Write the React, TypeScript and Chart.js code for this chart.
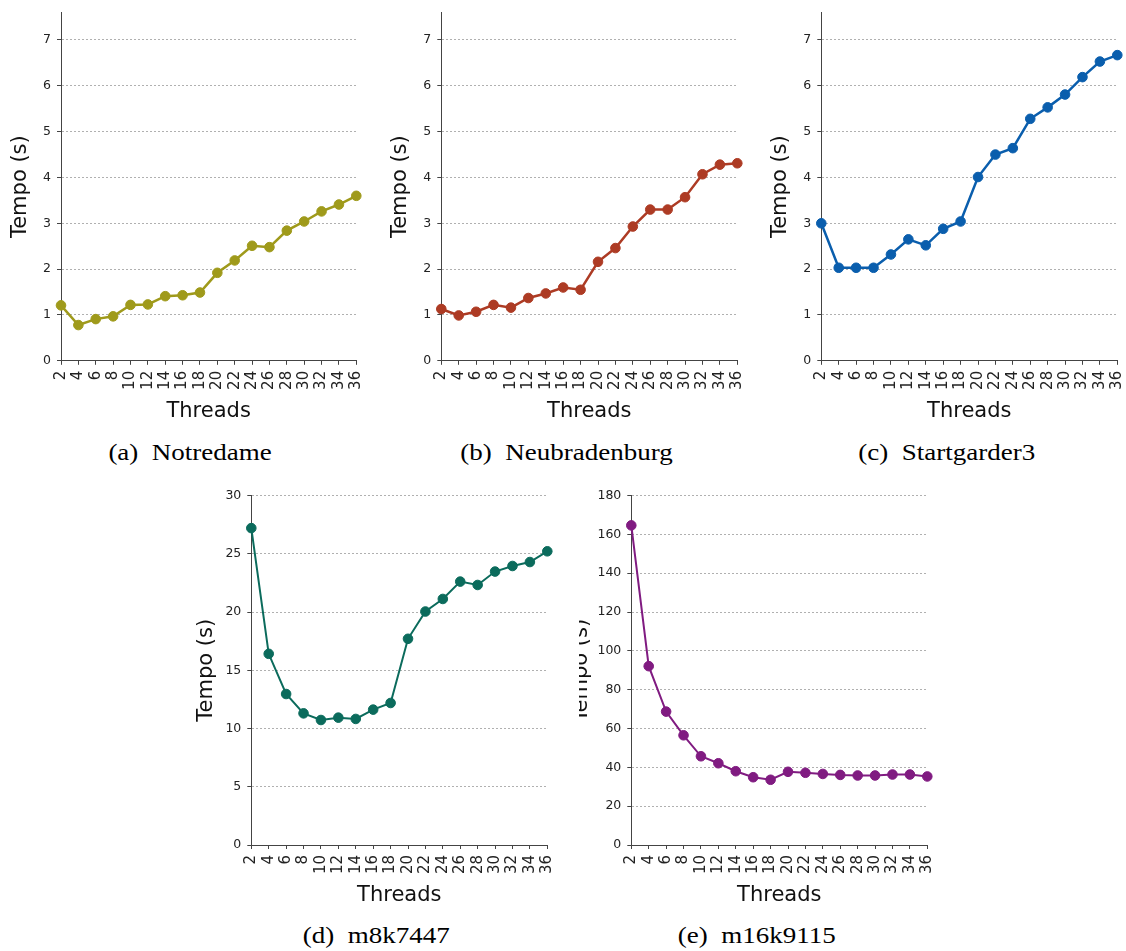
import React, { useEffect, useRef } from 'react';
import { Chart, registerables } from 'chart.js';

Chart.register(...registerables);

const threads = ['2', '4', '6', '8', '10', '12', '14', '16', '18', '20', '22', '24', '26', '28', '30', '32', '34', '36'];

const notredame = [1.21, 0.78, 0.91, 0.97, 1.22, 1.23, 1.41, 1.43, 1.49, 1.92, 2.19, 2.51, 2.48, 2.84, 3.04, 3.26, 3.41, 3.6];
const neubradenburg = [1.13, 0.99, 1.07, 1.22, 1.16, 1.37, 1.47, 1.6, 1.55, 2.16, 2.46, 2.93, 3.3, 3.3, 3.57, 4.07, 4.28, 4.31];
const startgarder3 = [3.0, 2.03, 2.03, 2.03, 2.32, 2.65, 2.52, 2.88, 3.04, 4.01, 4.5, 4.64, 5.28, 5.53, 5.81, 6.19, 6.53, 6.67];
const m8k7447 = [27.2, 16.41, 12.96, 11.3, 10.73, 10.93, 10.82, 11.62, 12.19, 17.7, 20.04, 21.12, 22.61, 22.32, 23.47, 23.95, 24.29, 25.21];
const m16k9115 = [164.6, 92.1, 68.7, 56.5, 45.7, 42.1, 38.0, 34.9, 33.6, 37.7, 37.2, 36.6, 36.1, 35.8, 35.8, 36.3, 36.3, 35.3];

const yTicksSmall = [0, 1, 2, 3, 4, 5, 6, 7];
const yTicksM8 = [0, 5, 10, 15, 20, 25, 30];
const yTicksM16 = [0, 20, 40, 60, 80, 100, 120, 140, 160, 180];

const FONT = "'DejaVu Sans', Verdana, sans-serif";
const TITLE_SIZE = 21;
const TITLE_LH = TITLE_SIZE * 1.2;

type PanelProps = {
  values: number[];
  color: string;
  yMax: number;
  yTicks: number[];
  L: number; T: number; R: number; B: number;
  ytx: number; xty: number;
  clipLeft?: number;
  lineWidth: number;
};

function Panel(p: PanelProps) {
  const ref = useRef<HTMLCanvasElement | null>(null);
  const cx = Math.floor(p.ytx - TITLE_LH / 2);
  const cy = Math.floor(p.T - 12);
  const cr = Math.ceil(p.R + 30);
  const cb = Math.ceil(p.xty + TITLE_LH / 2);
  const w = cr - cx;
  const h = cb - cy;

  useEffect(() => {
    const canvas = ref.current;
    if (!canvas) return;
    const padTitleY = p.ytx - TITLE_LH / 2 - cx;
    const padTitleX = cb - p.xty - TITLE_LH / 2;
    const yAxisW = p.L - cx;
    const xAxisH = cb - p.B;
    const chart = new Chart(canvas, {
      type: 'line',
      data: {
        labels: threads,
        datasets: [
          {
            data: p.values,
            borderColor: p.color,
            backgroundColor: p.color,
            pointBackgroundColor: p.color,
            pointBorderColor: p.color,
            pointRadius: 4.8,
            pointBorderWidth: 1,
            borderWidth: p.lineWidth,
            tension: 0,
            clip: false as any,
          },
        ],
      },
      options: {
        responsive: false,
        animation: false,
        devicePixelRatio: 1,
        layout: { padding: { left: 0, top: p.T - cy, right: cr - p.R, bottom: 0 } },
        plugins: { legend: { display: false }, tooltip: { enabled: false } },
        scales: {
          x: {
            type: 'category',
            offset: false,
            grid: { display: true, drawOnChartArea: false, drawTicks: true, tickLength: 4, tickColor: '#444', tickWidth: 1 },
            border: { display: true, color: '#444', width: 1 },
            ticks: {
              autoSkip: false,
              minRotation: 90,
              maxRotation: 90,
              padding: 6,
              color: '#222',
              font: { family: FONT, size: 15 },
            },
            title: {
              display: true,
              text: 'Threads',
              color: '#111',
              font: { family: FONT, size: TITLE_SIZE },
              padding: { top: 0, bottom: padTitleX },
            },
            afterFit: (s: any) => { s.height = xAxisH; },
          },
          y: {
            min: 0,
            max: p.yMax,
            afterBuildTicks: (s: any) => { s.ticks = p.yTicks.map((v) => ({ value: v })); },
            grid: { color: '#b0b0b0', lineWidth: 1, drawTicks: true, tickLength: 4, tickColor: '#444', tickWidth: 1, tickBorderDash: [] },
            border: { display: true, color: '#444', width: 1, dash: [2, 2] },
            ticks: { padding: 6, color: '#222', font: { family: FONT, size: 12.5 } },
            title: {
              display: true,
              text: 'Tempo (s)',
              color: '#111',
              font: { family: FONT, size: TITLE_SIZE },
              padding: { top: padTitleY, bottom: 0 },
            },
            afterFit: (s: any) => { s.width = yAxisW; },
          },
        },
      } as any,
    });
    return () => chart.destroy();
  }, []);

  const canvasEl = <canvas ref={ref} width={w} height={h} style={{ display: 'block', width: w, height: h }} />;

  if (p.clipLeft !== undefined) {
    const off = p.clipLeft - cx;
    return (
      <div style={{ position: 'absolute', left: p.clipLeft, top: cy, width: w - off, height: h, overflow: 'hidden' }}>
        <div style={{ position: 'absolute', left: -off, top: 0 }}>{canvasEl}</div>
      </div>
    );
  }
  return <div style={{ position: 'absolute', left: cx, top: cy }}>{canvasEl}</div>;
}

function Caption({ text, cx, baseline }: { text: string; cx: number; baseline: number }) {
  const size = 22.5;
  return (
    <div
      style={{
        position: 'absolute',
        left: cx - 200,
        width: 400,
        top: baseline - size * 0.8375,
        textAlign: 'center',
        fontFamily: "'Liberation Serif', 'Times New Roman', serif",
        fontSize: size,
        lineHeight: 1,
        color: '#000',
        whiteSpace: 'pre',
      }}
    >
      <span style={{ display: 'inline-block', transform: 'scaleX(1.2)', transformOrigin: 'center' }}>{text}</span>
    </div>
  );
}

export default function App() {
  return (
    <div style={{ position: 'absolute', left: 0, top: 0, width: 1126, height: 951, background: '#fff', overflow: 'hidden' }}>
      <Panel values={notredame} color="#9f9a1b" yMax={7.6} yTicks={yTicksSmall} L={61} T={11.8} R={356.3} B={360.8} ytx={20.8} xty={411.3} lineWidth={2.5} />
      <Panel values={neubradenburg} color="#ad3b24" yMax={7.6} yTicks={yTicksSmall} L={441.3} T={11.8} R={737.3} B={360.8} ytx={400.8} xty={411.3} lineWidth={2.5} />
      <Panel values={startgarder3} color="#0a5ead" yMax={7.6} yTicks={yTicksSmall} L={821.3} T={11.8} R={1117.3} B={360.8} ytx={780.8} xty={411.3} lineWidth={2.5} />
      <Panel values={m8k7447} color="#0b6b5c" yMax={30} yTicks={yTicksM8} L={251.3} T={494.7} R={547.3} B={845} ytx={207} xty={896} lineWidth={2} />
      <Panel values={m16k9115} color="#801b81" yMax={180} yTicks={yTicksM16} L={631.3} T={494.7} R={927.3} B={845} ytx={581.5} xty={896} clipLeft={579} lineWidth={2} />
      <Caption text="(a)  Notredame" cx={190.5} baseline={461} />
      <Caption text="(b)  Neubradenburg" cx={566.5} baseline={461} />
      <Caption text="(c)  Startgarder3" cx={946.5} baseline={461} />
      <Caption text="(d)  m8k7447" cx={376.7} baseline={944.3} />
      <Caption text="(e)  m16k9115" cx={756.7} baseline={944.3} />
    </div>
  );
}
